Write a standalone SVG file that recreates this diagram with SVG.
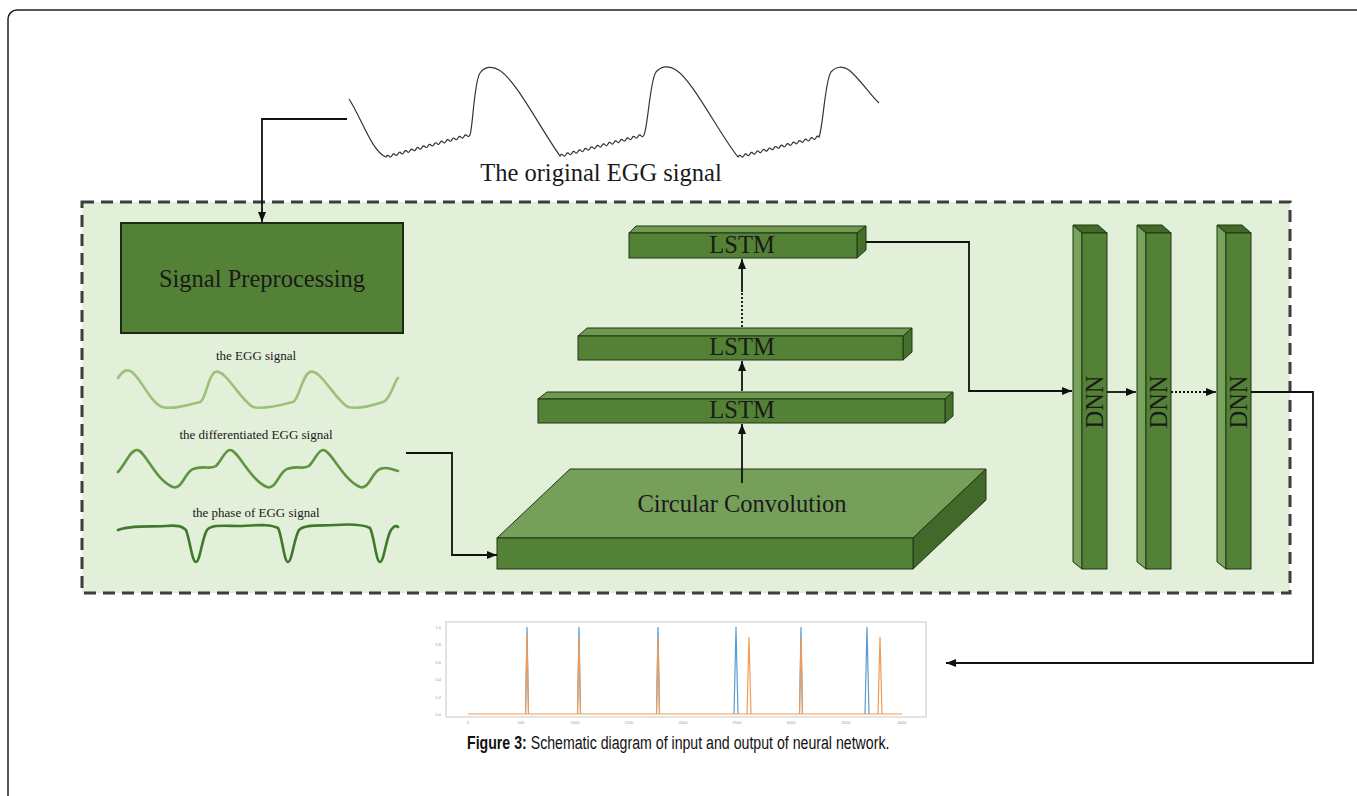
<svg xmlns="http://www.w3.org/2000/svg" width="1357" height="796" viewBox="0 0 1357 796">
<defs>
<marker id="ah" markerUnits="userSpaceOnUse" markerWidth="10" markerHeight="8" refX="10" refY="4" orient="auto"><path d="M0,0 L10,4 L0,8 z" fill="#111"/></marker>
<style>
.serif{font-family:"Liberation Serif","Times New Roman",serif;fill:#1a1a1a}
.big{font-size:24.5px}
.small{font-size:13px}
.front{fill:#538135;stroke:#233519;stroke-width:1}
.topL{fill:#6f9a50;stroke:#233519;stroke-width:1}
.side{fill:#44702c;stroke:#233519;stroke-width:1}
.dtop{fill:#3f6a28;stroke:#233519;stroke-width:1}
.dleft{fill:#78a35a;stroke:#233519;stroke-width:1}
.conn{fill:none;stroke:#111;stroke-width:1.8}
.dot{fill:none;stroke:#111;stroke-width:1.8;stroke-dasharray:2 2}
.wave{fill:none;stroke-width:2.6;stroke-linecap:round;stroke-linejoin:round}
.tick{font-family:"Liberation Sans",Arial,sans-serif;font-size:4px;fill:#9a9a9a}
.cap{font-family:"Liberation Sans",Arial,sans-serif;font-size:19px;fill:#111}
</style>
</defs>
<rect x="8" y="10" width="1400" height="850" rx="9" fill="#fff" stroke="#222" stroke-width="1.5"/>
<g id="original-signal">
<path fill="none" stroke="#333" stroke-width="1.2" d="M349,99 C361,117 372,152 386,157 q1.5,-2.8 3,-0.79 t3,-0.79 t3,-0.79 t3,-0.79 t3,-0.79 t3,-0.79 t3,-0.79 t3,-0.79 t3,-0.79 t3,-0.79 t3,-0.79 t3,-0.79 t3,-0.79 t3,-0.79 t3,-0.79 t3,-0.79 t3,-0.79 t3,-0.79 t3,-0.79 t3,-0.79 t3,-0.79 t3,-0.79 t3,-0.79 t3,-0.79 t3,-0.79 t3,-0.79 t3,-0.79 t3,-0.79 C473,126 474,82 480,73 C485,66 493,66 499,70 C516,80 540,128 560,156 q1.5,-2.8 3,-0.75 t3,-0.75 t3,-0.75 t3,-0.75 t3,-0.75 t3,-0.75 t3,-0.75 t3,-0.75 t3,-0.75 t3,-0.75 t3,-0.75 t3,-0.75 t3,-0.75 t3,-0.75 t3,-0.75 t3,-0.75 t3,-0.75 t3,-0.75 t3,-0.75 t3,-0.75 t3,-0.75 t3,-0.75 t3,-0.75 t3,-0.75 t3,-0.75 t3,-0.75 t3,-0.75 t3,-0.75 C648,126 650,80 656,72 C661,66 669,65 676,70 C694,82 718,132 738,157 q1.5,-2.8 3,-0.74 t3,-0.74 t3,-0.74 t3,-0.74 t3,-0.74 t3,-0.74 t3,-0.74 t3,-0.74 t3,-0.74 t3,-0.74 t3,-0.74 t3,-0.74 t3,-0.74 t3,-0.74 t3,-0.74 t3,-0.74 t3,-0.74 t3,-0.74 t3,-0.74 t3,-0.74 t3,-0.74 t3,-0.74 t3,-0.74 t3,-0.74 t3,-0.74 t3,-0.74 t3,-0.74 C823,128 825,80 831,72 C836,66 843,66 849,70 C861,80 870,95 879,103"/>
<text class="serif big" x="601" y="181" text-anchor="middle">The original EGG signal</text>
</g>
<g id="network-frame">
<rect x="82" y="202" width="1208" height="391" fill="#e2efd9" stroke="#3d3d3d" stroke-width="3" stroke-dasharray="12 7"/>
</g>
<g id="signal-preprocessing">
<rect x="121" y="223" width="282" height="110" fill="#538135" stroke="#1b2a12" stroke-width="2"/>
<text class="serif big" x="262" y="287" text-anchor="middle">Signal Preprocessing</text>
</g>
<g id="egg-signal">
<text class="serif small" x="256" y="360" text-anchor="middle">the EGG signal</text>
<path class="wave" stroke="#9cc27a" d="M118,378 C122,372 126,368 132,372 C142,380 150,402 162,407 C175,410 190,404 200,402 C206,400 208,375 215,372 C225,368 240,400 253,407 C265,410 285,404 293,402 C299,400 302,375 310,372 C320,368 335,400 348,407 C360,410 377,404 383,402 C390,400 394,382 398,378"/>
</g>
<g id="differentiated-signal">
<text class="serif small" x="256" y="439" text-anchor="middle">the differentiated EGG signal</text>
<path class="wave" stroke="#5f9440" d="M118,472 C125,465 130,450 137,450 C145,450 155,480 173,487 C182,490 185,472 193,469 C203,465 210,470 216,466 C222,460 225,450 230,450 C238,450 250,480 267,487 C276,490 279,472 287,469 C297,465 303,470 309,466 C315,460 318,450 323,450 C331,450 343,480 360,487 C369,490 372,472 380,469 C388,466 393,470 398,471"/>
</g>
<g id="phase-signal">
<text class="serif small" x="256" y="517" text-anchor="middle">the phase of EGG signal</text>
<path class="wave" stroke="#3f7a2a" d="M118,530 C130,525 150,527 165,526 C178,525 182,526 186,530 C190,540 192,562 196,562 C200,562 202,538 207,530 C212,524 225,526 240,526 C260,525 270,524 278,528 C282,535 284,562 288,562 C292,562 294,538 299,530 C305,524 320,526 335,525 C350,524 362,524 370,528 C374,535 376,562 380,562 C384,562 386,538 391,530 C394,526 396,525 398,527"/>
</g>
<g id="circular-convolution">
<polygon class="topL" points="497,538 570,469 986,469 913,538" style="fill:#76a05a"/>
<polygon class="side" points="913,538 986,469 986,500 913,569" style="fill:#40692a"/>
<rect class="front" x="497" y="538" width="416" height="31"/>
<text class="serif big" x="742" y="512" text-anchor="middle">Circular Convolution</text>
</g>
<g id="lstm-1">
<polygon class="topL" points="538,399 547,392 953,392 945,399"/>
<polygon class="side" points="945,399 953,392 953,416 945,423"/>
<rect class="front" x="538" y="399" width="407" height="24"/>
<text class="serif big" x="742" y="418" text-anchor="middle">LSTM</text>
</g>
<g id="lstm-2">
<polygon class="topL" points="578,336 587,328 912,328 903,336"/>
<polygon class="side" points="903,336 912,328 912,352 903,360"/>
<rect class="front" x="578" y="336" width="325" height="24"/>
<text class="serif big" x="742" y="355" text-anchor="middle">LSTM</text>
</g>
<g id="lstm-3">
<polygon class="topL" points="629,233 636,226 866,226 857,233"/>
<polygon class="side" points="857,233 866,226 866,250 857,258"/>
<rect class="front" x="629" y="233" width="228" height="25"/>
<text class="serif big" x="742" y="253" text-anchor="middle">LSTM</text>
</g>
<g id="dnn-1">
<polygon class="dleft" points="1073,225 1082,233 1082,569 1073,562"/>
<polygon class="dtop" points="1073,225 1098,225 1107,233 1082,233"/>
<rect class="front" x="1082" y="233" width="25" height="336"/>
<text class="serif big" transform="translate(1094.5,402) rotate(-90)" x="0" y="8" text-anchor="middle">DNN</text>
</g>
<g id="dnn-2">
<polygon class="dleft" points="1137,225 1146,233 1146,569 1137,562"/>
<polygon class="dtop" points="1137,225 1162,225 1171,233 1146,233"/>
<rect class="front" x="1146" y="233" width="25" height="336"/>
<text class="serif big" transform="translate(1158.5,402) rotate(-90)" x="0" y="8" text-anchor="middle">DNN</text>
</g>
<g id="dnn-3">
<polygon class="dleft" points="1217,225 1226,233 1226,569 1217,562"/>
<polygon class="dtop" points="1217,225 1242,225 1251,233 1226,233"/>
<rect class="front" x="1226" y="233" width="25" height="336"/>
<text class="serif big" transform="translate(1238.5,402) rotate(-90)" x="0" y="8" text-anchor="middle">DNN</text>
</g>
<g id="output-plot">
<rect x="446" y="622" width="480" height="95" fill="#fff" stroke="#d0d0d0" stroke-width="1.2"/>
<g fill="none" stroke="#5b9bd0" stroke-width="1.2">
<path d="M525.5,714 L527,627 L528.5,714"/>
<path d="M577.5,714 L579,627 L580.5,714"/>
<path d="M656.5,714 L658,627 L659.5,714"/>
<path d="M734,714 L736,627 L738,714"/>
<path d="M799.5,714 L801,627 L802.5,714"/>
<path d="M865,714 L867,627 L869,714"/>
</g>
<g fill="none" stroke="#f29b55" stroke-width="1.2">
<path d="M468,714 H902"/>
<path d="M525.5,714 L527,634 L528.5,714"/>
<path d="M577.5,714 L579,638 L580.5,714"/>
<path d="M656.5,714 L658,638 L659.5,714"/>
<path d="M747,714 L749,637 L751,714"/>
<path d="M799.5,714 L801,638 L802.5,714"/>
<path d="M878,714 L880,637 L882,714"/>
</g>
<g class="tick" text-anchor="end">
<text x="441" y="628.5">1.0</text>
<text x="441" y="645.5">0.8</text>
<text x="441" y="663.5">0.6</text>
<text x="441" y="680.5">0.4</text>
<text x="441" y="698.5">0.2</text>
<text x="441" y="715.5">0.0</text>
</g>
<g class="tick" text-anchor="middle">
<text x="468" y="724">0</text>
<text x="521" y="724">500</text>
<text x="575" y="724">1000</text>
<text x="629" y="724">1500</text>
<text x="683" y="724">2000</text>
<text x="737" y="724">2500</text>
<text x="791" y="724">3000</text>
<text x="846" y="724">3500</text>
<text x="902" y="724">4000</text>
</g>
</g>
<g id="connectors">
<path class="conn" d="M347,119 H262 V222" marker-end="url(#ah)"/>
<path class="conn" d="M406,453 H452 V555 H497" marker-end="url(#ah)"/>
<path class="conn" d="M742,483 V424" marker-end="url(#ah)"/>
<path class="conn" d="M742,391 V361" marker-end="url(#ah)"/>
<path class="dot" d="M742,327 V292"/>
<path class="conn" d="M742,292 V259" marker-end="url(#ah)"/>
<path class="conn" d="M866,242 H969 V391 H1072" marker-end="url(#ah)"/>
<path class="conn" d="M1107,392 H1136" marker-end="url(#ah)"/>
<path class="dot" d="M1171,392 H1205"/>
<path class="conn" d="M1204,392 H1216" marker-end="url(#ah)"/>
<path class="conn" d="M1251,392 H1313 V663 H946" marker-end="url(#ah)"/>
</g>
<g id="caption">
<text class="cap" transform="translate(467,749) scale(0.745,1)" x="0" y="0"><tspan font-weight="bold">Figure 3:</tspan> Schematic diagram of input and output of neural network.</text>
</g>
</svg>
